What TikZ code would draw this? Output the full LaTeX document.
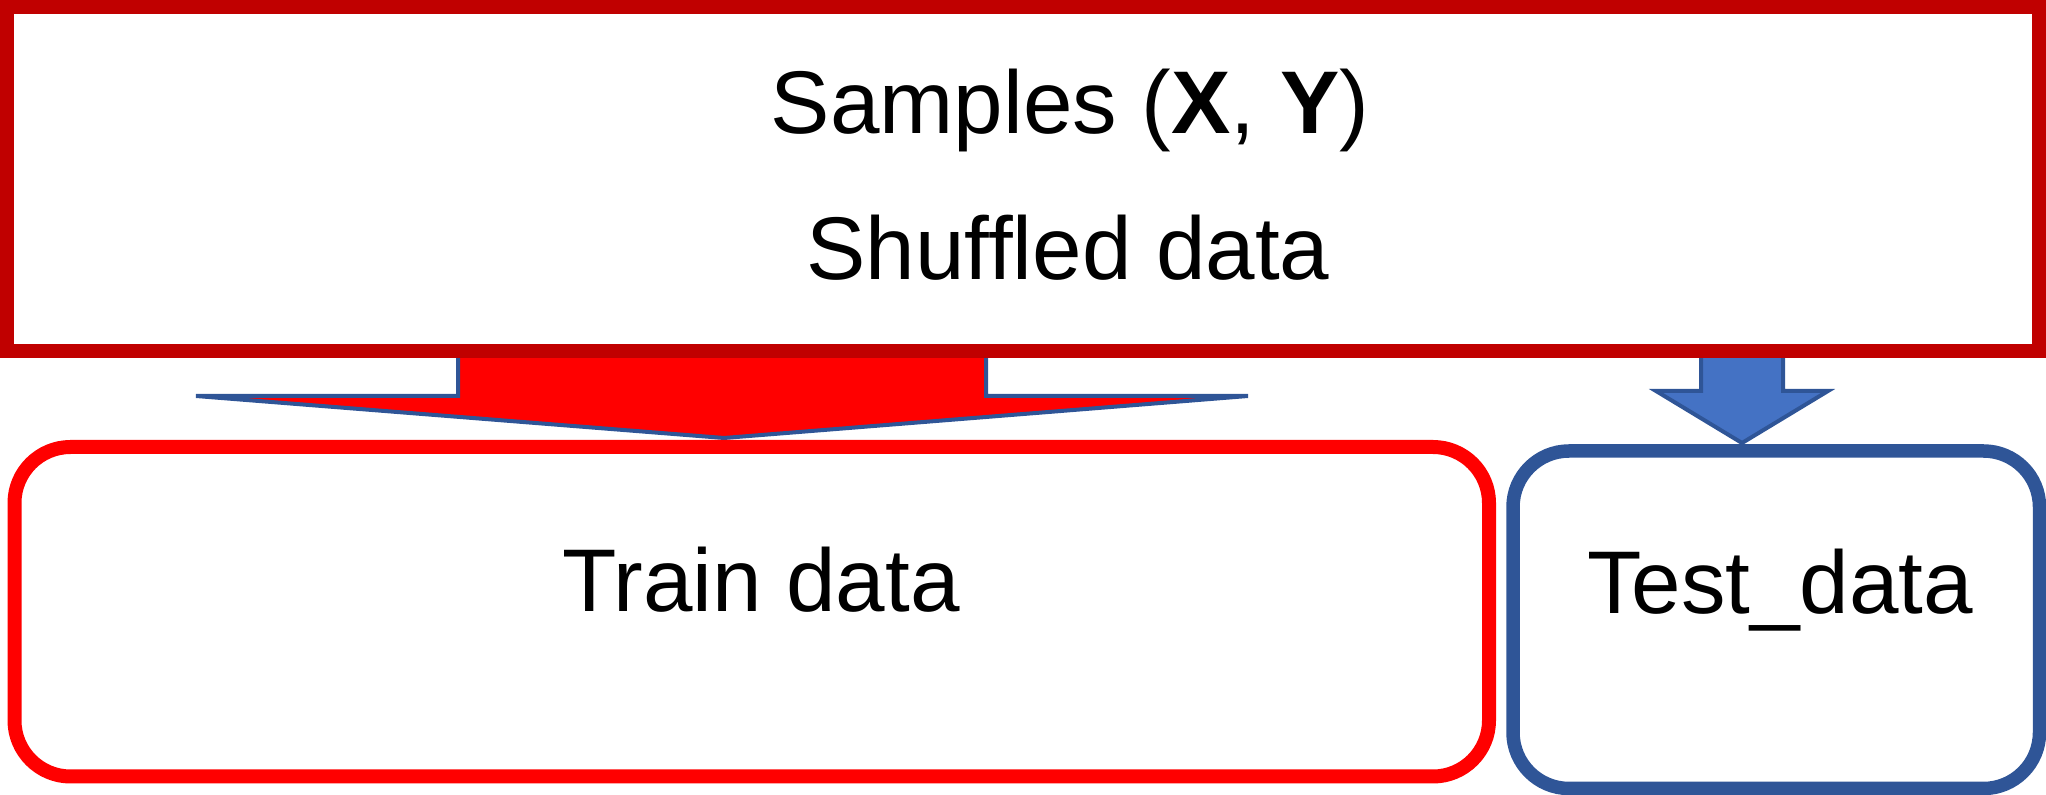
\documentclass[tikz,border=0pt]{standalone}
\usepackage{fontspec}
\setmainfont{Liberation Sans}
\definecolor{boxdarkred}{HTML}{C00000}
\definecolor{boxred}{HTML}{FF0000}
\definecolor{edgeblue}{HTML}{2F5597}
\definecolor{fillblue}{HTML}{4472C4}
\begin{document}
\begin{tikzpicture}[x=0.5pt,y=-0.5pt,font=\fontsize{44.5pt}{53pt}\selectfont,
  databox/.style={draw,inner sep=0pt,outer sep=0pt},
  label/.style={anchor=base,inner sep=0pt}]
  \useasboundingbox (0,0) rectangle (2046,795);
  % split arrows (drawn first, boxes cover their shafts)
  \filldraw[fill=boxred,draw=edgeblue,line width=2pt,line join=miter]
    (458,351) -- (458,396) -- (196,396) -- (724,438) -- (1248,396) -- (986,396) -- (986,351) -- cycle;
  \filldraw[fill=fillblue,draw=edgeblue,line width=2pt,line join=miter]
    (1701,351) -- (1701,391) -- (1656,391) -- (1742,443) -- (1828,391) -- (1783,391) -- (1783,351) -- cycle;
  % boxes
  \node[databox,draw=boxdarkred,line width=7pt,minimum width=1016pt,minimum height=172pt] (samples) at (1023,179) {};
  \node[databox,draw=boxred,line width=7pt,rounded corners=28pt,minimum width=737.25pt,minimum height=164.75pt] (train) at (751.75,611.75) {};
  \node[databox,draw=edgeblue,line width=6.75pt,rounded corners=28pt,minimum width=263.25pt,minimum height=168.75pt] (test) at (1776.25,619.75) {};
  % texts
  \node[label] (samplestxt) at (1070,134) {Samples (\textbf{X}, \textbf{Y})};
  \node[label] (shuffledtxt) at (1068,280) {Shuffled data};
  \node[label] (traintxt) at (761,612) {Train data};
  \node[label] (testtxt) at (1780,614) {Test\_data};
\end{tikzpicture}
\end{document}
